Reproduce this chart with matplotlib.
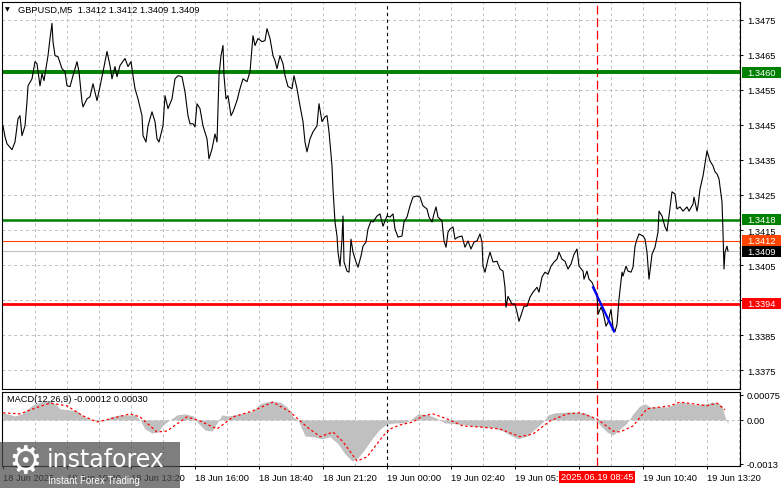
import numpy as np
import matplotlib
matplotlib.use("Agg")
import matplotlib.pyplot as plt
from matplotlib.patches import Rectangle
from matplotlib.transforms import blended_transform_factory

plt.rcParams["font.family"] = ["Liberation Sans", "DejaVu Sans"]

# --- data (GBPUSD M5, bar 0 = 18 Jun 08:00) ---------------------------------
BARS = [0, 1, 2, 4.5, 6, 7.5, 8.5, 9.5, 11, 12, 12.5, 14.5, 16, 17, 18.5, 19.5,
        20.5, 22, 22.5, 23.5, 24.5, 25, 26, 27.5, 29.5, 31, 32, 33.5, 35, 37, 38,
        39.5, 40, 42, 43.5, 45, 47, 48.5, 50, 52, 53.5, 54.5, 56, 57, 58.5, 61,
        62.5, 64, 65, 66, 67.5, 69.5, 70, 71.5, 72.5, 74.5, 76, 77, 78, 80, 81,
        82.5, 84.5, 86, 87.5, 89.5, 91, 92.5, 93.5, 95, 96, 97, 98.5, 100, 102,
        103, 104.5, 106, 107, 108, 109, 110, 110.5, 111.5, 112.5, 114, 115, 117,
        118.5, 120, 122, 123.5, 125, 126, 127.5, 129.5, 131, 132, 133.5, 135, 136,
        137, 138.5, 140, 141, 142.5, 144.5, 145.5, 147, 148.5, 150, 151, 152,
        153.5, 155, 157, 158, 159.5, 161, 162, 163, 164.5, 165, 166, 167, 167.5,
        168.5, 169.5, 170, 170.5, 172, 173, 174, 175, 176.5, 177.5, 179, 180,
        181.5, 182.5, 184, 185, 187, 188.5, 190, 191, 192, 193.5, 195, 196, 197.5,
        199.5, 200.5, 202, 203.5, 205, 207, 208.5, 210, 212, 213, 214.5, 215.5,
        216.5, 217.5, 219.5, 220.5, 221.5, 222.5, 223.5, 225, 226, 227.5, 229.5,
        231, 232.5, 234, 235.5, 237, 238.5, 239.5, 240, 241, 242.5, 243.5, 245,
        247, 248.5, 250, 251, 251.5, 252.5, 254.5, 256, 257, 258, 259.5, 260.5,
        262, 263.5, 265, 267, 268, 269.5, 271, 272.5, 274, 275.5, 277, 278, 279.5,
        281, 282.5, 284, 285.5, 287, 288, 290, 290.5, 292, 293, 294.5, 295.5, 297,
        297.5, 299, 300, 301.5, 302.5, 304, 305, 306, 307, 308, 309.5, 310, 311.5,
        312.5, 314, 315, 316, 317, 318, 320, 321, 322, 323, 324.5, 326, 327.5, 328,
        329.5, 331, 332, 333, 334.5, 336, 337, 338.5, 340, 342, 343, 345, 345.5,
        347, 347.5, 348.5, 350, 351, 352, 353.5, 355, 356, 357, 358, 359.5, 360,
        360.5, 361, 362, 362.5]
CLOSE = [1.34447, 1.34416, 1.34396, 1.34379, 1.34401, 1.34467, 1.34476, 1.34419,
         1.34447, 1.34516, 1.34561, 1.34581, 1.34630, 1.34624, 1.34561, 1.34596,
         1.34576, 1.34630, 1.34647, 1.34696, 1.34739, 1.34687, 1.34647, 1.34644,
         1.34610, 1.34601, 1.34561, 1.34559, 1.34590, 1.34630, 1.34601, 1.34516,
         1.34501, 1.34524, 1.34530, 1.34567, 1.34519, 1.34559, 1.34601, 1.34659,
         1.34619, 1.34581, 1.34616, 1.34587, 1.34619, 1.34639, 1.34616, 1.34630,
         1.34590, 1.34553, 1.34524, 1.34476, 1.34419, 1.34401, 1.34447, 1.34487,
         1.34459, 1.34410, 1.34401, 1.34447, 1.34533, 1.34496, 1.34524, 1.34581,
         1.34590, 1.34587, 1.34544, 1.34476, 1.34453, 1.34453, 1.34444, 1.34510,
         1.34496, 1.34447, 1.34410, 1.34353, 1.34381, 1.34424, 1.34401, 1.34590,
         1.34647, 1.34676, 1.34590, 1.34524, 1.34533, 1.34476, 1.34487, 1.34519,
         1.34553, 1.34581, 1.34573, 1.34601, 1.34704, 1.34676, 1.34696, 1.34687,
         1.34690, 1.34724, 1.34696, 1.34647, 1.34633, 1.34610, 1.34647, 1.34624,
         1.34590, 1.34559, 1.34553, 1.34590, 1.34553, 1.34504, 1.34459, 1.34401,
         1.34373, 1.34410, 1.34430, 1.34447, 1.34510, 1.34459, 1.34473, 1.34476,
         1.34430, 1.34333, 1.34267, 1.34173, 1.34133, 1.34087, 1.34047, 1.34124,
         1.34190, 1.34059, 1.34033, 1.34030, 1.34124, 1.34087, 1.34059, 1.34044,
         1.34076, 1.34104, 1.34116, 1.34153, 1.34176, 1.34173, 1.34190, 1.34196,
         1.34161, 1.34176, 1.34190, 1.34187, 1.34196, 1.34153, 1.34130, 1.34133,
         1.34173, 1.34187, 1.34219, 1.34244, 1.34247, 1.34244, 1.34219, 1.34210,
         1.34187, 1.34173, 1.34196, 1.34216, 1.34187, 1.34176, 1.34119, 1.34101,
         1.34144, 1.34153, 1.34159, 1.34124, 1.34130, 1.34133, 1.34101, 1.34119,
         1.34096, 1.34116, 1.34119, 1.34139, 1.34116, 1.34047, 1.34030, 1.34067,
         1.34087, 1.34059, 1.34061, 1.34039, 1.34033, 1.33987, 1.33930, 1.33961,
         1.33939, 1.33939, 1.33916, 1.33890, 1.33916, 1.33933, 1.33933, 1.33959,
         1.33973, 1.33987, 1.33973, 1.34016, 1.34030, 1.34024, 1.34047, 1.34059,
         1.34067, 1.34087, 1.34067, 1.34061, 1.34039, 1.34053, 1.34081, 1.34096,
         1.34047, 1.34033, 1.34010, 1.34033, 1.34010, 1.34001, 1.33987, 1.33967,
         1.33910, 1.33930, 1.33916, 1.33876, 1.33887, 1.33924, 1.33873, 1.33861,
         1.33881, 1.33953, 1.34030, 1.34019, 1.34047, 1.34033, 1.34030, 1.34044,
         1.34104, 1.34124, 1.34139, 1.34133, 1.34124, 1.34087, 1.34010, 1.34081,
         1.34101, 1.34144, 1.34204, 1.34190, 1.34159, 1.34147, 1.34190, 1.34259,
         1.34253, 1.34210, 1.34216, 1.34204, 1.34216, 1.34204, 1.34224, 1.34244,
         1.34204, 1.34219, 1.34267, 1.34304, 1.34339, 1.34376, 1.34347, 1.34333,
         1.34316, 1.34310, 1.34296, 1.34230, 1.34144, 1.34039, 1.34087, 1.34104,
         1.34090]

TREND_BARS = [295, 305.5]
TREND_PRICES = [1.33987, 1.33861]

HIST_BARS = [0, 6, 9.5, 12.5, 15, 17.5, 20, 23.5, 26, 28.5, 33.5, 37, 40, 43.5,
             46, 51, 53.5, 58.5, 66, 68.5, 71, 74.5, 77.5, 80, 83.5, 87, 91, 95,
             97.5, 101, 104.5, 107, 109.5, 112.5, 116, 121, 125, 128.5, 133.5,
             138.5, 142, 145, 147.5, 151, 155, 159.5, 163.5, 167.5, 171, 174.5,
             177.5, 181, 184.5, 188.5, 192, 196, 201, 205, 207.5, 212.5, 216.5,
             221, 227.5, 232, 238.5, 246, 250, 253.5, 257.5, 262, 266, 270, 272.5,
             276, 283.5, 291, 295, 298.5, 302, 305, 308.5, 312, 315, 318.5, 321,
             323.5, 328.5, 332.5, 336, 340, 343.5, 347, 351, 354.5, 357.5, 359.5,
             361, 362.5]
HIST = [0.00021, 0.00012, 0.00018, 0.00033, 0.00045, 0.00050, 0.00056, 0.00056,
        0.00048, 0.00033, 0.00030, 0.00027, 0.00012, 0.00003, -0.00003, -0.00003,
        0.00009, 0.00015, 0.00015, 0.0, -0.00027, -0.00039, -0.00036, -0.00015,
        0.0, 0.00015, 0.00018, 0.00012, -0.00009, -0.00030, -0.00033, -0.00009,
        0.00015, 0.00012, 0.00015, 0.00021, 0.00027, 0.00048, 0.00056, 0.00053,
        0.00039, 0.00009, 0.0, -0.00048, -0.00050, -0.00056, -0.00050, -0.00071,
        -0.00101, -0.00122, -0.00113, -0.00086, -0.00056, -0.00027, -0.00012,
        -0.00009, -0.00009, 0.00006, 0.00018, 0.00015, 0.00006, -0.00009,
        -0.00012, -0.00015, -0.00021, -0.00024, -0.00033, -0.00045, -0.00056,
        -0.00048, -0.00027, -0.00006, 0.00015, 0.00021, 0.00024, 0.00021,
        0.00009, -0.00015, -0.00036, -0.00045, -0.00027, -0.00009, 0.00018,
        0.00042, 0.00048, 0.00039, 0.00039, 0.00039, 0.00048, 0.00053, 0.00048,
        0.00045, 0.00048, 0.00053, 0.00050, 0.00042, 0.00009, -0.00012]

SIG_BARS = [0, 8.5, 15, 23.5, 32, 40, 47, 53.5, 63.5, 68.5, 77, 82, 92, 98.5, 107,
            115, 125, 135, 143.5, 152, 158.5, 165, 170, 177, 182, 190, 193.5,
            198.5, 205, 210, 215, 222, 230, 238.5, 248.5, 258.5, 265, 273.5, 282,
            288.5, 297, 305, 308.5, 315, 322, 333.5, 338.5, 345, 352, 357, 361]
SIGNAL = [0.00021, 0.00018, 0.00033, 0.00050, 0.00042, 0.00012, -0.00006,
          0.00003, 0.00018, 0.00009, -0.00036, -0.00033, 0.00009, -0.00003,
          -0.00027, 0.00009, 0.00027, 0.00053, 0.00024, -0.00021, -0.00050,
          -0.00036, -0.00065, -0.00122, -0.00110, -0.00048, -0.00027, -0.00015,
          -0.00006, 0.00012, 0.00018, 0.00003, -0.00018, -0.00021, -0.00027,
          -0.00050, -0.00042, -0.00003, 0.00018, 0.00021, 0.00003, -0.00033,
          -0.00036, -0.00018, 0.00033, 0.00042, 0.00053, 0.00048, 0.00042,
          0.00050, 0.00030]

PRICE_TICKS = [1.3375, 1.3385, 1.3395, 1.3405, 1.3415, 1.3425, 1.3435, 1.3445,
               1.3455, 1.3465, 1.3475]
MACD_TICKS = [-0.0013, 0.0, 0.00075]
MACD_TICK_LABELS = ["-0.0013", "0.00", "0.00075"]
# the 05:20 label is cut by the red time marker, the 08:00 one is hidden by it
TIME_LABELS = ["18 Jun 2025", "18 Jun 10:40", "18 Jun 13:20", "18 Jun 16:00",
               "18 Jun 18:40", "18 Jun 21:20", "19 Jun 00:00", "19 Jun 02:40",
               "19 Jun 05:", "", "19 Jun 10:40", "19 Jun 13:20"]
DAY_BREAK = 192
MARK_BAR = 297
MARK_LABEL = "2025.06.19 08:45"
# level, line colour, line width, tag colour
LEVELS = [(1.3460, "#008000", 2.8, "#008000"),
          (1.3418, "#008000", 1.8, "#008000"),
          (1.3412, "#ff4500", 0.8, "#ff4500"),
          (1.3394, "#ff0000", 2.0, "#ff0000")]
BID = 1.3409

W, H = 781, 489
GRID = "#c0c0c0"
FS = 6.7


def px_rect(l, t, r, b):
    return [l / W, 1 - b / H, (r - l) / W, (b - t) / H]


def price_tag(ax, y, text, color, height):
    tr = blended_transform_factory(ax.transAxes, ax.transData)
    ax.add_patch(Rectangle((1.0027, y - height / 2), 0.06, height, transform=tr,
                           facecolor=color, edgecolor="none", clip_on=False, zorder=6))
    ax.text(1.0095, y, text, transform=tr, color="white", fontsize=FS,
            ha="left", va="center", clip_on=False, zorder=7)


def main():
    fig = plt.figure(figsize=(W / 100, H / 100), dpi=100)
    ax = fig.add_axes(px_rect(2, 3, 740, 390))
    axm = fig.add_axes(px_rect(2, 393, 740, 467))

    for a in (ax, axm):
        a.set_xlim(-0.5, 368.5)
        for s in a.spines.values():
            s.set_color("black")
            s.set_linewidth(0.8)
        for b in np.arange(16, 369, 16):
            if b != DAY_BREAK:
                a.axvline(b, color=GRID, lw=0.7, ls=(0, (3, 3)), zorder=1)
        a.axvline(DAY_BREAK, color="black", lw=0.8, ls=(0, (3, 3)), zorder=1.5)
        a.axvline(MARK_BAR, color="red", lw=0.9, ls=(0, (7, 3)), zorder=1.5)

    # --- price panel ---------------------------------------------------------
    ax.set_ylim(1.33697, 1.34800)
    for y in PRICE_TICKS:
        ax.axhline(y, color=GRID, lw=0.7, ls=(0, (3, 3)), zorder=1)
    ax.axhline(BID, color=GRID, lw=0.8, zorder=1.6)
    for y, c, lw, _ in LEVELS:
        ax.axhline(y, color=c, lw=lw, zorder=2)
    ax.plot(BARS, CLOSE, color="black", lw=0.8, zorder=3)
    ax.plot(TREND_BARS, TREND_PRICES, color="#0000ff", lw=1.6, zorder=4)

    ax.yaxis.tick_right()
    ax.set_yticks(PRICE_TICKS)
    ax.set_yticklabels([f"{v:.4f}" if abs(v - 1.3395) > 1e-6 else "" for v in PRICE_TICKS])
    ax.tick_params(axis="y", direction="out", length=2.5, width=0.7, pad=2.5,
                   labelsize=FS)
    ax.tick_params(axis="x", bottom=False, labelbottom=False)

    tag_h = 0.000315
    for y, _, _, c in LEVELS:
        price_tag(ax, y, f"{y:.4f}", c, tag_h)
    price_tag(ax, BID, f"{BID:.4f}", "black", tag_h)

    # --- MACD panel ----------------------------------------------------------
    axm.set_ylim(-0.00137, 0.00083)
    axm.axhline(0, color=GRID, lw=0.7, ls=(0, (3, 3)), zorder=1)
    axm.fill_between(HIST_BARS, HIST, 0, color="#c0c0c0", lw=0, zorder=2)
    axm.plot(SIG_BARS, SIGNAL, color="red", lw=0.9, ls=(0, (2, 2)), zorder=3)
    axm.yaxis.tick_right()
    axm.set_yticks(MACD_TICKS)
    axm.set_yticklabels(MACD_TICK_LABELS)
    axm.tick_params(axis="y", direction="out", length=2.5, width=0.7, pad=2.0,
                    labelsize=FS)
    axm.set_xticks(np.arange(0, 353, 32))
    axm.set_xticklabels(TIME_LABELS, ha="left")
    axm.tick_params(axis="x", direction="out", length=2.5, width=0.7, pad=2.5,
                    labelsize=FS)

    # --- header texts --------------------------------------------------------
    fig.text(5 / W, 1 - 10 / H, "\u25bc", fontsize=4.5, family="DejaVu Sans",
             va="center", ha="left")
    fig.text(18 / W, 1 - 10 / H, "GBPUSD,M5  1.3412 1.3412 1.3409 1.3409",
             fontsize=FS, va="center", ha="left")
    fig.text(7 / W, 1 - 400 / H, "MACD(12,26,9) -0.00012 0.00030",
             fontsize=FS, va="center", ha="left")

    # time marker label
    xm = ax.transData.transform((MARK_BAR, 0))[0] / W
    fig.text(xm, 1 - 478 / H, MARK_LABEL, fontsize=FS, color="white",
             ha="center", va="center", zorder=5,
             bbox=dict(boxstyle="square,pad=0.2", facecolor="#ff0000", edgecolor="none"))

    # --- watermark -----------------------------------------------------------
    fig.add_artist(Rectangle((0, 0), 180 / W, 46 / H, transform=fig.transFigure,
                             facecolor=(0.3, 0.3, 0.3), alpha=0.72,
                             edgecolor="none", zorder=10))
    fig.text(25 / W, 1 - 463 / H, "\u2699", family="DejaVu Sans", fontsize=27,
             color="white", ha="center", va="center", zorder=11)
    fig.text(47 / W, 1 - 460 / H, "instaforex", family="DejaVu Sans", fontsize=17,
             color="white", ha="left", va="center", zorder=11)
    fig.text(48 / W, 1 - 481 / H, "Instant Forex Trading", fontsize=7,
             color="white", ha="left", va="center", zorder=11)

    fig.savefig("out.png", dpi=100, facecolor="white")


if __name__ == "__main__":
    main()
